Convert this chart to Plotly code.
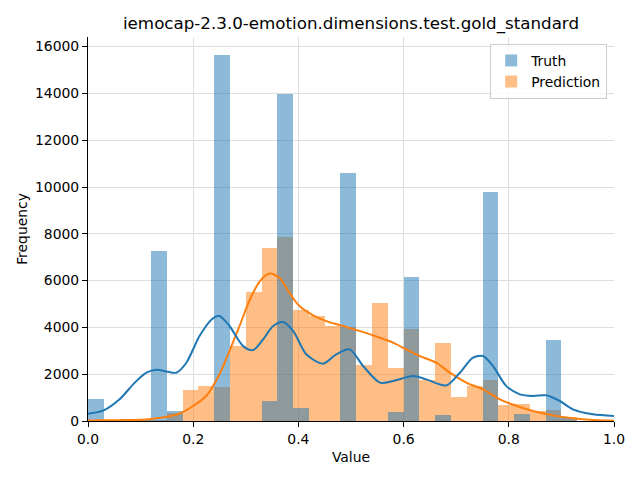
import plotly.graph_objects as go

# ---- data ----
bin_width = 0.03
truth_counts = [926, 0, 60, 60, 7250, 420, 0, 0, 15620, 0, 0, 855, 13960, 540, 0, 0,
                10580, 0, 0, 370, 6140, 0, 240, 0, 0, 9770, 0, 285, 0, 3450, 115]
pred_counts = [0, 40, 70, 70, 40, 330, 1310, 1490, 1440, 3190, 5500, 7380, 7850, 4730, 4490, 4045,
               4020, 2380, 5060, 2250, 3920, 1750, 3320, 1010, 1480, 1740, 670, 710, 430, 455, 185]

truth_kde_x = [0, 0.03, 0.06, 0.089, 0.111, 0.13, 0.149, 0.168, 0.187, 0.212, 0.235, 0.25, 0.269,
               0.295, 0.314, 0.333, 0.352, 0.371, 0.39, 0.415, 0.447, 0.472, 0.4975, 0.523, 0.555,
               0.58, 0.618, 0.643, 0.681, 0.707, 0.732, 0.751, 0.77, 0.795, 0.821, 0.846, 0.871,
               0.897, 0.922, 0.96, 1.0]
truth_kde_y = [313, 456, 926, 1640, 2065, 2190, 2120, 2065, 2490, 3630, 4340, 4490, 4060,
               3200, 3030, 3490, 4060, 4230, 3850, 2850, 2450, 2850, 3060, 2350, 1640,
               1710, 1920, 1780, 1520, 2065, 2710, 2780, 2350, 1500, 1140, 1070, 1100,
               855, 500, 285, 214]

pred_kde_x = [0, 0.03, 0.085, 0.12, 0.15, 0.175, 0.2, 0.225, 0.25, 0.269, 0.288, 0.307, 0.326,
              0.345, 0.364, 0.383, 0.402, 0.428, 0.453, 0.478, 0.516, 0.555, 0.58, 0.605, 0.63,
              0.662, 0.688, 0.719, 0.751, 0.783, 0.815, 0.846, 0.884, 0.922, 0.96, 1.0]
pred_kde_y = [20, 30, 40, 90, 180, 330, 640, 1080, 2000, 3000, 4050, 5150, 5950,
              6300, 6125, 5480, 4910, 4515, 4270, 4100, 3850, 3560, 3350, 3060, 2780,
              2490, 2065, 1640, 1350, 925, 640, 430, 240, 115, 43, 15]

x_ticks = [0.0, 0.2, 0.4, 0.6, 0.8, 1.0]
y_ticks = [0, 2000, 4000, 6000, 8000, 10000, 12000, 14000, 16000]

title = "iemocap-2.3.0-emotion.dimensions.test.gold_standard"
BLUE = "#1f77b4"
ORANGE = "#ff7f0e"

centers_t = [(i + 0.5) * bin_width for i in range(len(truth_counts))]
centers_p = [(i + 0.5) * bin_width for i in range(len(pred_counts))]

fig = go.Figure()
fig.add_trace(go.Bar(x=centers_p, y=pred_counts, width=bin_width, name="Prediction",
                     marker=dict(color=ORANGE, line=dict(width=0)), opacity=0.5, legendrank=2))
fig.add_trace(go.Bar(x=centers_t, y=truth_counts, width=bin_width, name="Truth",
                     marker=dict(color=BLUE, line=dict(width=0)), opacity=0.5, legendrank=1))
fig.add_trace(go.Scatter(x=pred_kde_x, y=pred_kde_y, mode="lines", showlegend=False,
                         line=dict(color=ORANGE, width=2, shape="spline", smoothing=0.8)))
fig.add_trace(go.Scatter(x=truth_kde_x, y=truth_kde_y, mode="lines", showlegend=False,
                         line=dict(color=BLUE, width=2, shape="spline", smoothing=0.8)))

font = "DejaVu Sans"
fig.update_layout(
    width=640, height=480,
    margin=dict(l=88, r=26, t=37, b=59, pad=0),
    paper_bgcolor="white", plot_bgcolor="white",
    barmode="overlay", bargap=0,
    font=dict(family=font, size=13.9, color="black"),
    title=dict(text=title, x=0.5, xref="paper", y=1 - 23 / 480, yanchor="middle",
               font=dict(size=16.7, family=font, color="black")),
    legend=dict(x=0.987, y=0.982, xanchor="right", yanchor="top",
                bgcolor="rgba(255,255,255,0.8)", bordercolor="#cccccc", borderwidth=1,
                font=dict(size=13.9, family=font)),
    showlegend=True,
)
fig.update_xaxes(range=[0, 1], tickvals=x_ticks, tickformat=".1f",
                 showline=True, linecolor="black", linewidth=1.1,
                 ticks="outside", ticklen=5, tickwidth=1.1, tickcolor="black",
                 showgrid=True, gridcolor="#dedede", gridwidth=1, zeroline=False,
                 title=dict(text="Value", standoff=6, font=dict(size=13.9, family=font)))
fig.update_yaxes(range=[0, 16410], tickvals=y_ticks, tickformat="d",
                 showline=True, linecolor="black", linewidth=1.1,
                 ticks="outside", ticklen=5, tickwidth=1.1, tickcolor="black",
                 showgrid=True, gridcolor="#dedede", gridwidth=1, zeroline=False,
                 title=dict(text="Frequency", standoff=4, font=dict(size=13.9, family=font)))

fig.write_html("out.html", config={"displayModeBar": False},
               post_script="document.body.style.margin='0';")
